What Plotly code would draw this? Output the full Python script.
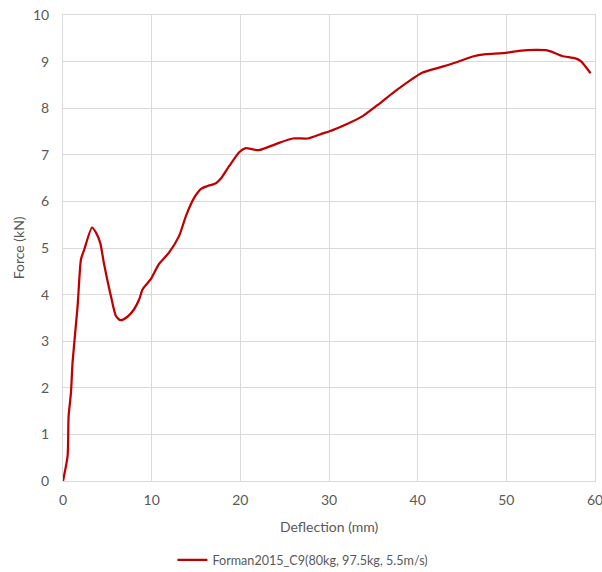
import plotly.graph_objects as go

deflection = [0.0, 0.52, 0.63, 0.9, 1.08, 1.65, 2.03, 2.4, 3.27, 3.72, 4.2, 4.6, 5.4, 5.97, 6.5,
              7.3, 8.0, 8.6, 8.97, 9.9, 10.8, 11.95, 13.1, 13.87, 14.8, 15.56, 16.3, 17.25,
              17.8, 18.75, 19.9, 20.55, 22.1, 24.0, 25.9, 27.6, 29.3, 30.0, 31.9, 33.8, 35.7,
              37.5, 39.4, 40.5, 42.4, 44.3, 46.2, 47.7, 49.6, 51.4, 53.3, 54.6, 55.4, 56.3,
              57.8, 58.4, 59.5]
force = [0.0, 0.54, 1.39, 1.9, 2.55, 3.76, 4.76, 4.97, 5.44, 5.33, 5.11, 4.69, 3.97, 3.54, 3.45,
         3.53, 3.68, 3.9, 4.11, 4.33, 4.65, 4.9, 5.26, 5.69, 6.08, 6.27, 6.33, 6.39,
         6.49, 6.76, 7.06, 7.14, 7.10, 7.23, 7.35, 7.35, 7.46, 7.50, 7.65, 7.83, 8.10,
         8.37, 8.63, 8.76, 8.87, 8.98, 9.11, 9.16, 9.18, 9.23, 9.25, 9.24, 9.19, 9.12,
         9.07, 9.01, 8.75]
series_name = "Forman2015_C9(80kg, 97.5kg, 5.5m/s)"
x_title = "Deflection (mm)"
y_title = "Force (kN)"

font_family = "Lato, Open Sans, sans-serif"
grey = "#595959"
grid = "#d9d9d9"

fig = go.Figure()
fig.add_trace(go.Scatter(x=deflection, y=force, mode="lines", name=series_name,
                         line=dict(color="#c00000", width=2.25, shape="spline", smoothing=0.6)))

fig.update_layout(
    width=602, height=572,
    margin=dict(l=63, r=7, t=15, b=91, autoexpand=False),
    paper_bgcolor="white", plot_bgcolor="white",
    font=dict(family=font_family, color=grey, size=14),
    showlegend=True,
    legend=dict(orientation="h", x=0.451, xanchor="center", y=-0.17, yanchor="middle",
                font=dict(size=12.6, color=grey)),
    xaxis=dict(range=[0, 60], dtick=10, showgrid=True, gridcolor=grid, gridwidth=1,
               zeroline=False, showline=True, linecolor=grid, mirror=True,
               automargin=False, ticklabeloverflow="allow", ticklabelstandoff=6,
               tickfont=dict(size=14, color=grey), ticks=""),
    yaxis=dict(range=[0, 10], dtick=1, showgrid=True, gridcolor=grid, gridwidth=1,
               zeroline=False, showline=True, linecolor=grid, mirror=True,
               automargin=False, ticklabeloverflow="allow", ticklabelstandoff=10,
               tickfont=dict(size=14, color=grey), ticks=""),
    annotations=[
        dict(text=x_title, xref="paper", yref="paper", x=0.5, y=-0.098, yanchor="middle",
             showarrow=False, font=dict(size=14, color=grey)),
        dict(text=y_title, xref="paper", yref="paper", x=-0.084, y=0.5, xanchor="center",
             yanchor="middle", textangle=-90, showarrow=False, font=dict(size=14, color=grey)),
    ],
)

fig.write_html("out.html", config={"displayModeBar": False},
               post_script="document.body.style.margin='0';document.body.style.overflow='hidden';")
